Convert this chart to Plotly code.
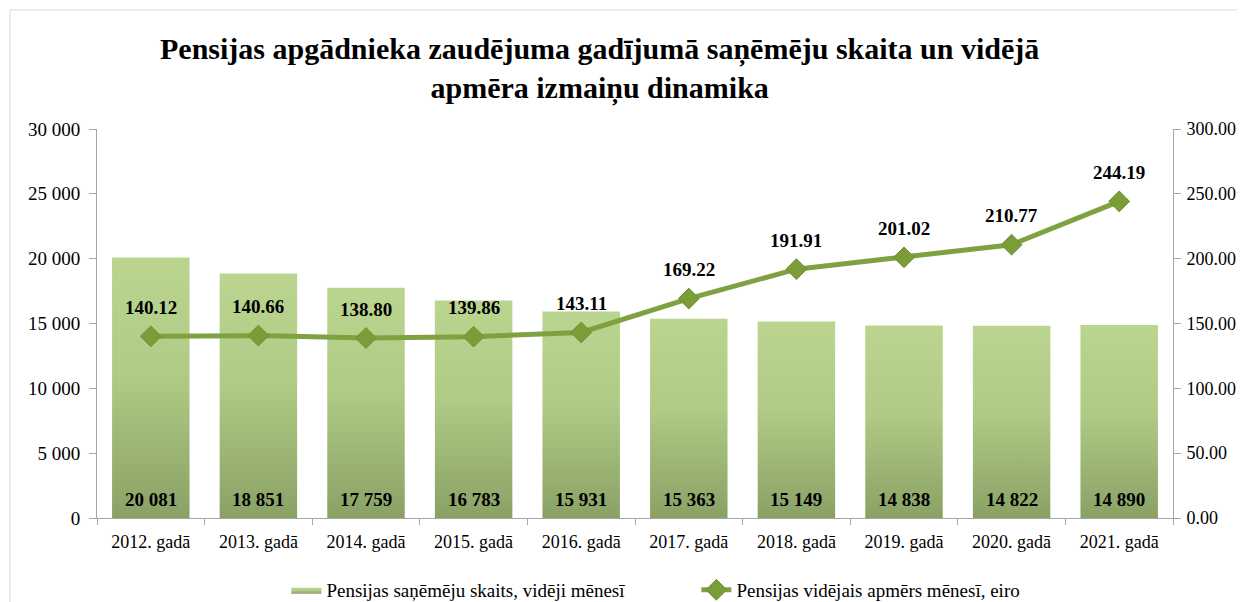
import plotly.graph_objects as go

categories = ["2012. gadā", "2013. gadā", "2014. gadā", "2015. gadā", "2016. gadā",
              "2017. gadā", "2018. gadā", "2019. gadā", "2020. gadā", "2021. gadā"]
recipients = [20081, 18851, 17759, 16783, 15931, 15363, 15149, 14838, 14822, 14890]
avg_pension = [140.12, 140.66, 138.80, 139.86, 143.11, 169.22, 191.91, 201.02, 210.77, 244.19]
left_ticks = [0, 5000, 10000, 15000, 20000, 25000, 30000]
right_ticks = [0, 50, 100, 150, 200, 250, 300]

bar_name = "Pensijas saņēmēju skaits, vidēji mēnesī"
line_name = "Pensijas vidējais apmērs mēnesī, eiro"
title = "Pensijas apgādnieka zaudējuma gadījumā saņēmēju skaita un vidējā<br>apmēra izmaiņu dinamika"

FONT = "Liberation Serif"
BAR_HALF = 0.36


def fmt_thousands(v):
    return f"{v:,}".replace(",", " ")


fig = go.Figure()

# bars as gradient-filled rectangles (one per category)
for i, v in enumerate(recipients):
    fig.add_trace(go.Scatter(
        x=[i - BAR_HALF, i + BAR_HALF, i + BAR_HALF, i - BAR_HALF, i - BAR_HALF],
        y=[0, 0, v, v, 0],
        mode="lines", line=dict(width=0, color="#a9c47f"),
        fill="toself",
        fillcolor="#a9c47f",
        fillgradient=dict(type="vertical", start=0, stop=v,
                          colorscale=[[0, "#8aa165"], [0.55, "#afcb86"], [1, "#bad590"]]),
        name=bar_name, legendgroup="bars", showlegend=(i == 0),
        hoverinfo="skip", yaxis="y",
    ))

fig.add_trace(go.Scatter(
    x=list(range(len(categories))), y=avg_pension, yaxis="y2",
    mode="lines+markers", name=line_name,
    line=dict(color="#7fa240", width=5),
    marker=dict(symbol="diamond", size=16, color="#7a9d38", line=dict(color="#6f8f33", width=1)),
))

annotations = [dict(x=0.4674, y=1.154, xref="paper", yref="paper", text=f"<b>{title}</b>",
                    showarrow=False, xanchor="center", yanchor="middle",
                    font=dict(family=FONT, size=30, color="#000"))]
for i, v in enumerate(recipients):
    annotations.append(dict(x=i, y=0, xref="x", yref="y", text=f"<b>{fmt_thousands(v)}</b>",
                            showarrow=False, yanchor="bottom", yshift=6,
                            font=dict(family=FONT, size=19, color="#000")))
for i, v in enumerate(avg_pension):
    annotations.append(dict(x=i, y=v, xref="x", yref="y2", text=f"<b>{v:.2f}</b>",
                            showarrow=False, yanchor="middle", yshift=29,
                            font=dict(family=FONT, size=19, color="#000")))

fig.update_layout(
    width=1237, height=606,
    margin=dict(l=89, r=72, t=121, b=96, autoexpand=False),
    paper_bgcolor="white", plot_bgcolor="white",
    font=dict(family=FONT, size=18, color="#000"),
    xaxis=dict(range=[-0.5, len(categories) - 0.5], tickvals=list(range(len(categories))),
               ticktext=categories, showgrid=False, zeroline=False, automargin=False,
               showline=True, linecolor="#a6a6a6", linewidth=1, ticks="",
               ticklabelstandoff=7,
               minor=dict(tick0=-0.5, dtick=1, ticks="outside", ticklen=6, tickcolor="#a6a6a6"),
               tickfont=dict(family=FONT, size=18)),
    yaxis=dict(range=[0, 30000], tickvals=left_ticks, ticktext=[fmt_thousands(t) for t in left_ticks],
               showgrid=False, zeroline=False, showline=True, linecolor="#a6a6a6", linewidth=1,
               automargin=False,
               ticks="outside", ticklen=7, tickcolor="#a6a6a6", ticklabelstandoff=5,
               tickfont=dict(family=FONT, size=19)),
    yaxis2=dict(range=[0, 300], tickvals=right_ticks, ticktext=[f"{t:.2f}" for t in right_ticks],
                overlaying="y", side="right", showgrid=False, zeroline=False,
                showline=True, linecolor="#a6a6a6", linewidth=1, automargin=False,
                ticks="outside", ticklen=7, tickcolor="#a6a6a6", ticklabelstandoff=2,
                tickfont=dict(family=FONT, size=18)),
    legend=dict(orientation="h", x=0.176, xanchor="left", y=-0.136, yanchor="top",
                entrywidth=365, entrywidthmode="pixels",
                font=dict(family=FONT, size=19, color="#000"), bgcolor="rgba(0,0,0,0)"),
    annotations=annotations,
    shapes=[dict(type="rect", xref="paper", yref="paper", x0=-0.0809, x1=1.0667, y0=-0.35, y1=1.306,
                 line=dict(color="#d9d9d9", width=1), layer="below")],
    showlegend=True,
)

fig.write_html("out.html")
